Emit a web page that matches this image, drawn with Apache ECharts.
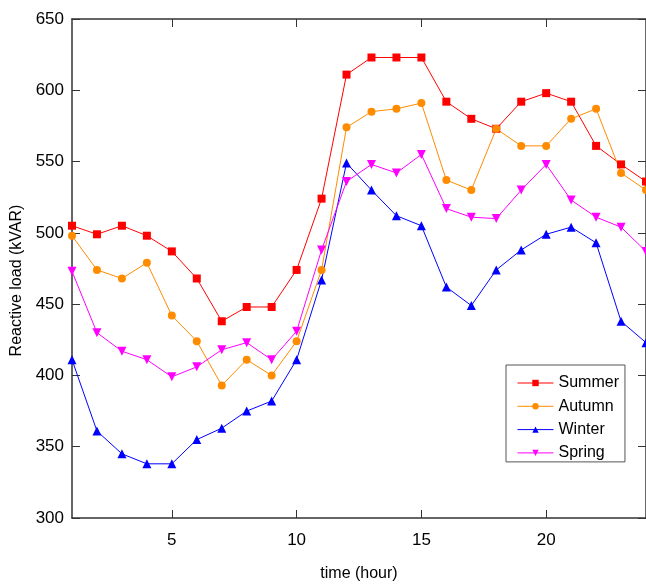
<!DOCTYPE html>
<html>
<head>
<meta charset="utf-8">
<script src="https://cdn.jsdelivr.net/npm/echarts@6/dist/echarts.min.js"></script>
<style>html,body{margin:0;padding:0;background:#fff}#c{width:646px;height:588px}</style>
</head>
<body>
<div id="c"></div>
<script>
const hours = [1,2,3,4,5,6,7,8,9,10,11,12,13,14,15,16,17,18,19,20,21,22,23,24];
const summer = [505,499,505,498,487,468,438,448,448,474,524,611,623,623,623,592,580,573,592,598,592,561,548,536];
const autumn = [498,474,468,479,442,424,393,411,400,424,474,574,585,587,591,537,530,573,561,561,580,587,542,530];
const winter = [411,361,345,338,338,355,363,375,382,411,467,549,530,512,505,462,449,474,488,499,504,493,438,423];
const spring = [473,430,417,411,399,406,418,423,411,431,488,536,548,542,555,517,511,510,530,548,523,511,504,487];
const seriesNames = ['Summer','Autumn','Winter','Spring'];

const font = 'Liberation Sans, Arial, sans-serif';
const axisColor = '#333';
const chart = echarts.init(document.getElementById('c'), null, {renderer:'canvas'});

function mk(name, data, color, symbol, size, rotate) {
  return {
    name: name, type: 'line', data: hours.map((h,i)=>[h,data[i]]),
    symbol: symbol, symbolSize: size, symbolRotate: rotate || 0,
    showAllSymbol: true,
    lineStyle: {color: color, width: 1},
    itemStyle: {color: color},
    emphasis: {disabled: true}, animation: false, clip: true
  };
}

const xCommon = {
  type: 'value', min: 1, max: 24, interval: 5,
  axisLine: {show: true, lineStyle: {color: axisColor, width: 1.5}},
  axisTick: {show: true, inside: true, length: 8, lineStyle: {color: axisColor, width: 1}},
  splitLine: {show: false}
};
const yCommon = {
  type: 'value', min: 300, max: 650, interval: 50,
  axisLine: {show: true, lineStyle: {color: axisColor, width: 1.5}},
  axisTick: {show: true, inside: true, length: 8, lineStyle: {color: axisColor, width: 1}},
  splitLine: {show: false}
};

chart.setOption({
  animation: false,
  backgroundColor: '#fff',
  grid: {left: 72, top: 19, right: 0, bottom: 70, containLabel: false, outerBoundsMode: 'none'},
  xAxis: [
    Object.assign({}, xCommon, {
      position: 'bottom',
      name: 'time (hour)', nameLocation: 'middle', nameGap: 48,
      nameTextStyle: {fontFamily: font, fontSize: 16, color: '#000'},
      axisLabel: {fontFamily: font, fontSize: 17, color: '#000', margin: 14,
        customValues: [5,10,15,20]},
      axisTick: Object.assign({}, xCommon.axisTick, {customValues: [5,10,15,20]})
    }),
    Object.assign({}, xCommon, {
      position: 'top', axisLabel: {show: false},
      axisTick: Object.assign({}, xCommon.axisTick, {customValues: [5,10,15,20]})
    })
  ],
  yAxis: [
    Object.assign({}, yCommon, {
      position: 'left',
      name: 'Reactive load (kVAR)', nameLocation: 'middle', nameGap: 47,
      nameTextStyle: {fontFamily: font, fontSize: 16, color: '#000', padding: [0, 24, 0, 0]},
      axisLabel: {fontFamily: font, fontSize: 17, color: '#000', margin: 8}
    }),
    Object.assign({}, yCommon, {position: 'right', axisLabel: {show: false}})
  ],
  legend: {
    orient: 'vertical', left: 506, top: 365,
    padding: [10, 6, 1, 11],
    itemGap: 7.3, itemWidth: 36, itemHeight: 8,
    backgroundColor: '#fff',
    borderColor: '#555', borderWidth: 1,
    lineStyle: {width: 1},
    textStyle: {fontFamily: font, fontSize: 16, color: '#000', lineHeight: 16, padding: [0,0,0,0]},
    data: seriesNames
  },
  series: [
    mk(seriesNames[0], summer, '#ff0000', 'rect', 8),
    mk(seriesNames[1], autumn, '#ff8c00', 'circle', 8),
    mk(seriesNames[2], winter, '#0000ff', 'triangle', 9),
    mk(seriesNames[3], spring, '#ff00ff', 'triangle', 9, 180)
  ]
});
</script>
</body>
</html>
